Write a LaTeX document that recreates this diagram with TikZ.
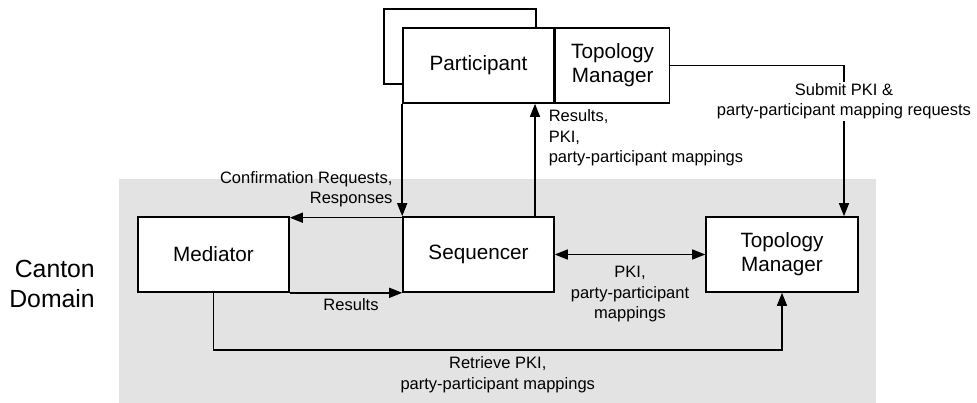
\documentclass[tikz,border=0pt]{standalone}
\usepackage{fontspec}
\setmainfont{Liberation Sans}
\usepackage{xcolor}
\usepackage{tikz}
\usetikzlibrary{arrows.meta,positioning}
\definecolor{domaingray}{HTML}{E3E3E3}

\begin{document}
\begin{tikzpicture}[x=1pt, y=-1pt,
    box/.style={draw, line width=1.6pt, fill=white, inner sep=0pt, minimum height=75pt,
                align=center, font=\fontsize{20.7}{24}\selectfont},
    lbl/.style={inner sep=0pt, font=\fontsize{16.5}{20.5}\selectfont},
    arr/.style={-{Triangle[length=13pt, width=10pt]}, line width=1.5pt},
    darr/.style={{Triangle[length=13pt, width=10pt]}-{Triangle[length=13pt, width=10pt]}, line width=1.5pt}]
  \useasboundingbox (0,0) rectangle (977,403);
  % Domain background and its name
  \fill[domaingray] (119,179) rectangle (876,403);
  \node[anchor=north east, inner sep=0pt, align=right, font=\fontsize{24.8}{30}\selectfont]
        (dom) at (95,259.5) {Canton\\Domain};

  % Participant with its own topology manager
  \node[box, minimum width=151pt] (part) at (478.5,65.5) {Participant};
  \node[box, minimum width=114pt, right=0pt of part] (ptm) {Topology\\Manager};
  \coordinate (loopc) at (384,9);
  \draw[line width=1.5pt] ([yshift=-18.5pt]part.west) -| (loopc) -| ([xshift=57.5pt]part.north);

  % Domain nodes
  \node[box, minimum width=151pt] (med) at (213.5,254.5) {Mediator};
  \node[box, minimum width=151pt] (seq) at (478.5,254.5) {Sequencer};
  \node[box, minimum width=152pt] (dtm) at (782,254.5) {Topology\\Manager};

  \draw[arr] (part.south west) -- (seq.north west);
  \draw[arr] ([yshift=-1.5pt]seq.north west) -- ([yshift=-1.5pt]med.north east)
        node[lbl, pos=0, anchor=south east, xshift=-9pt, yshift=10pt, align=right]
        {Confirmation Requests,\\Responses};
  \draw[arr] (med.south east) -- (seq.south west)
        node[lbl, midway, below=5pt, xshift=5pt] {Results};
  \draw[arr] ([xshift=56.5pt]seq.north) -- ([xshift=56.5pt]part.south)
        node[lbl, pos=1, anchor=north west, xshift=13pt, yshift=-5pt, align=left]
        {Results,\\PKI,\\party-participant mappings};
  \draw[darr] (seq) -- (dtm)
        node[lbl, midway, below=11pt, align=center] {PKI,\\party-participant\\mappings};
  \draw[arr] (ptm.east) -| ([xshift=62pt]dtm.north)
        node[lbl, pos=0.619, fill=white, inner sep=1.5pt, align=center]
        {Submit PKI \&\\party-participant mapping requests};
  \draw[arr] (med.south) -- ++(0,57) -| (dtm.south)
        node[lbl, pos=0.25, below=6pt, align=center] {Retrieve PKI,\\party-participant mappings};
\end{tikzpicture}
\end{document}
